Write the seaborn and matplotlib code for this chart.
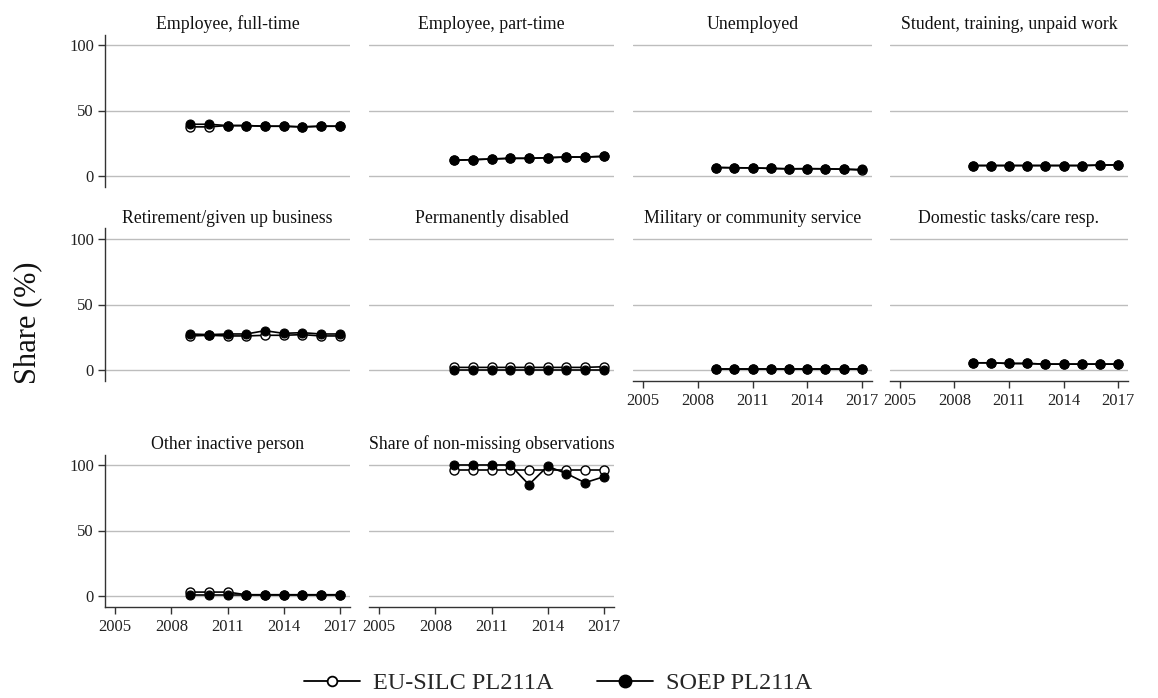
import matplotlib
matplotlib.use("Agg")
import matplotlib.pyplot as plt
import seaborn as sns
import pandas as pd
from matplotlib.lines import Line2D

sns.set_theme(style="white")
plt.rcParams['font.family'] = ['Liberation Serif', 'DejaVu Serif']

years = [2009, 2010, 2011, 2012, 2013, 2014, 2015, 2016, 2017]

panels = [
    "Employee, full-time",
    "Employee, part-time",
    "Unemployed",
    "Student, training, unpaid work",
    "Retirement/given up business",
    "Permanently disabled",
    "Military or community service",
    "Domestic tasks/care resp.",
    "Other inactive person",
    "Share of non-missing observations",
]

eusilc = [
    [37.5, 37.5, 38.5, 38.5, 38.0, 38.0, 37.5, 38.0, 38.0],
    [12.0, 12.5, 13.0, 13.5, 13.5, 14.0, 14.5, 14.5, 15.0],
    [6.5, 6.3, 6.2, 5.8, 5.5, 5.6, 5.5, 5.2, 4.5],
    [8.0, 8.0, 8.0, 8.0, 8.0, 8.0, 8.0, 8.3, 8.5],
    [26.0, 26.5, 26.0, 26.0, 26.5, 26.5, 27.0, 26.0, 26.0],
    [2.0, 2.0, 2.0, 2.0, 2.0, 2.0, 2.0, 2.0, 2.5],
    [1.0, 1.0, 1.0, 1.0, 1.0, 1.0, 1.0, 1.0, 1.0],
    [5.5, 5.5, 5.0, 5.0, 4.5, 4.5, 4.5, 4.5, 4.5],
    [3.0, 3.0, 3.0, 1.0, 1.0, 1.0, 1.0, 1.0, 1.0],
    [96.0, 96.0, 96.0, 96.0, 96.0, 96.0, 96.0, 96.0, 96.0],
]

soep = [
    [39.5, 39.5, 38.5, 38.5, 38.0, 38.0, 37.5, 38.0, 38.0],
    [12.0, 12.5, 13.0, 13.5, 13.5, 14.0, 14.5, 14.5, 15.0],
    [6.5, 6.3, 6.2, 5.8, 5.5, 5.6, 5.5, 5.2, 5.0],
    [8.0, 8.0, 8.0, 8.0, 8.0, 8.0, 8.0, 8.3, 8.5],
    [27.5, 27.0, 27.5, 27.5, 30.0, 28.0, 28.5, 27.5, 27.5],
    [0.3, 0.3, 0.3, 0.3, 0.3, 0.3, 0.3, 0.3, 0.3],
    [0.5, 0.5, 0.5, 0.5, 0.5, 0.5, 0.5, 0.5, 0.5],
    [5.5, 5.5, 5.0, 5.0, 4.5, 4.5, 4.5, 4.5, 4.5],
    [1.0, 1.0, 1.0, 1.0, 1.0, 1.0, 1.0, 1.0, 1.0],
    [100.0, 100.0, 100.0, 100.0, 85.0, 99.0, 93.5, 86.5, 91.0],
]

xticks = [2005, 2008, 2011, 2014, 2017]
yticks = [0, 50, 100]
series_names = ["EU-SILC PL211A", "SOEP PL211A"]

W, H = 1158, 698
fig = plt.figure(figsize=(W / 100, H / 100), dpi=100)

col_x = [(105, 350), (369, 614), (633, 872), (890, 1128)]
row_y = [(34.5, 186.5), (228.5, 380.5), (454.5, 606.5)]

axcol = "#333333"
gridcol = "#bdbdbd"

for i, name in enumerate(panels):
    r, c = divmod(i, 4)
    x0, x1 = col_x[c]
    y0, y1 = row_y[r]
    ax = fig.add_axes([x0 / W, 1 - y1 / H, (x1 - x0) / W, (y1 - y0) / H])
    df = pd.DataFrame({"year": years * 2,
                       "value": eusilc[i] + soep[i],
                       "source": [series_names[0]] * 9 + [series_names[1]] * 9})
    for ax_y in yticks:
        ax.axhline(ax_y, color=gridcol, lw=1.0, zorder=0)
    sns.lineplot(data=df[df.source == series_names[0]], x="year", y="value", ax=ax,
                 color="black", lw=1.2, marker="o", markersize=6.5,
                 markerfacecolor="white", markeredgecolor="black",
                 markeredgewidth=1.0, zorder=3, legend=False)
    sns.lineplot(data=df[df.source == series_names[1]], x="year", y="value", ax=ax,
                 color="black", lw=1.2, marker="o", markersize=6.5,
                 markerfacecolor="black", markeredgecolor="black",
                 zorder=4, legend=False)
    ax.set_xlim(2004.45, 2017.55)
    ax.set_ylim(-8, 108)
    ax.set_xlabel("")
    ax.set_ylabel("")
    ax.set_title(name, fontsize=12.8, pad=4, color="#111111")
    for s in ax.spines.values():
        s.set_visible(False)
    left = (c == 0)
    bottom = (r == 2) or (r == 1 and c >= 2)
    if left:
        ax.spines["left"].set_visible(True)
        ax.spines["left"].set_color(axcol)
        ax.spines["left"].set_linewidth(1.0)
        ax.set_yticks(yticks)
        ax.tick_params(axis="y", left=True, length=5, width=1, color=axcol,
                       labelsize=12, pad=3, labelcolor="#222222")
    else:
        ax.set_yticks([])
    if bottom:
        ax.spines["bottom"].set_visible(True)
        ax.spines["bottom"].set_color(axcol)
        ax.spines["bottom"].set_linewidth(1.0)
        ax.set_xticks(xticks)
        ax.tick_params(axis="x", bottom=True, length=5, width=1, color=axcol,
                       labelsize=12, pad=4, labelcolor="#222222")
    else:
        ax.set_xticks([])

fig.text(28 / W, 1 - 323 / H, "Share (%)", rotation=90, fontsize=22,
         ha="center", va="center", color="#111111")

handles = [
    Line2D([0], [0], color="black", lw=1.3, marker="o", markersize=7,
           markerfacecolor="white", markeredgecolor="black", markeredgewidth=1.3),
    Line2D([0], [0], color="black", lw=1.3, marker="o", markersize=9,
           markerfacecolor="black", markeredgecolor="black"),
]
fig.legend(handles, series_names, loc="center", bbox_to_anchor=(0.482, 15 / H),
           ncol=2, frameon=False, fontsize=17.5, handlelength=2.3,
           columnspacing=1.8, handletextpad=0.55)

fig.savefig("out.png", dpi=100, facecolor="white")
